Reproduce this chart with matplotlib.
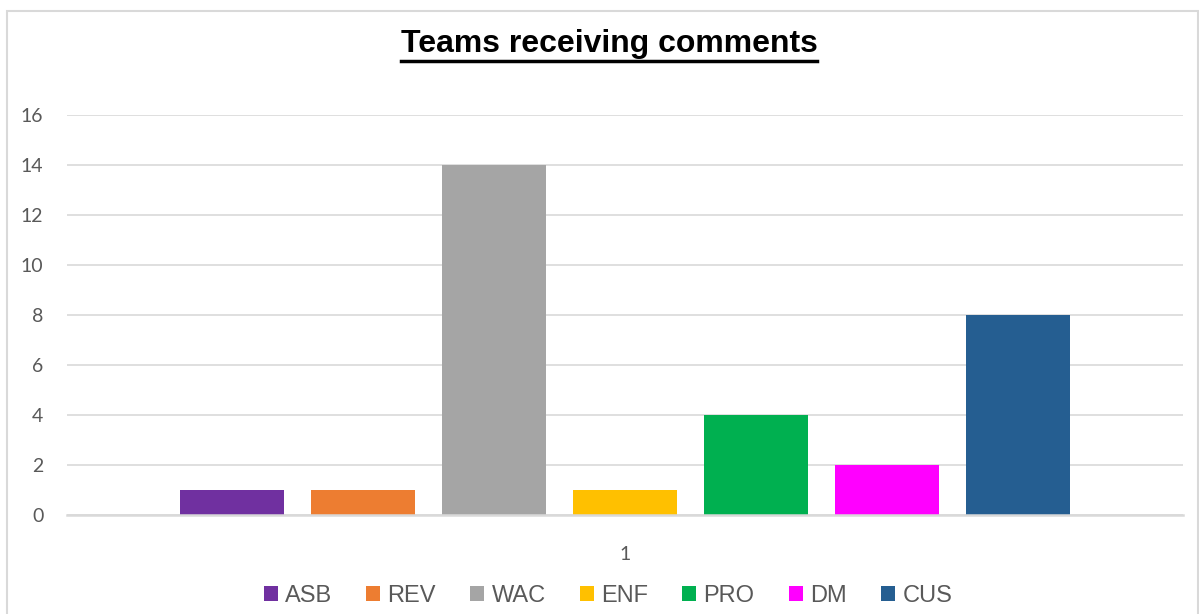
import matplotlib.pyplot as plt
from matplotlib.patches import Rectangle
from matplotlib.lines import Line2D

teams = ["ASB", "REV", "WAC", "ENF", "PRO", "DM", "CUS"]
comments = [1, 1, 14, 1, 4, 2, 8]
colours = ["#7030A0", "#ED7D31", "#A5A5A5", "#FFC000", "#00B050", "#FF00FF", "#255E91"]
category = "1"
y_ticks = [0, 2, 4, 6, 8, 10, 12, 14, 16]

W, H = 1199, 614
fig = plt.figure(figsize=(W / 100, H / 100), dpi=100)

# thin grey frame round the chart
fig.add_artist(Rectangle((7 / W, -0.1), (1198 - 7) / W, (H - 11) / H + 0.1,
                         transform=fig.transFigure, fill=False,
                         edgecolor="#D9D9D9", linewidth=1.5))

ax = fig.add_axes([67 / W, (H - 515) / H, (1183 - 67) / W, 400 / H])

bar_w = 104 / 131
pos = list(range(len(teams)))
for p, name, val, col in zip(pos, teams, comments, colours):
    ax.bar(p, val, width=bar_w, color=col, label=name, zorder=3)

half = 558 / 131
ax.set_xlim(3 - half, 3 + half)
ax.set_ylim(0, 16)
ax.set_yticks(y_ticks)
ax.set_xticks([3])
ax.set_xticklabels([category])

ax.grid(axis="y", color="#D9D9D9", linewidth=1.2, zorder=0)
for s in ["top", "right", "left"]:
    ax.spines[s].set_visible(False)
ax.spines["bottom"].set_color("#D9D9D9")
ax.spines["bottom"].set_linewidth(1.8)
ax.spines["bottom"].set_zorder(4)

ax.tick_params(axis="y", length=0, pad=17, labelsize=14, labelcolor="#595959")
ax.tick_params(axis="x", length=0, pad=22, labelsize=14, labelcolor="#595959")
for lab in ax.get_xticklabels() + ax.get_yticklabels():
    lab.set_fontfamily("Lato")

title = fig.text(609 / W, (H - 44) / H, "Teams receiving comments", ha="center", va="center",
                 fontsize=23, fontweight="bold", family="Liberation Sans")

leg = fig.legend(loc="center", bbox_to_anchor=(0.507, (H - 596) / H), ncol=7, frameon=False,
                 prop={"family": "Liberation Sans", "size": 17},
                 handlelength=0.6, handleheight=0.6, handletextpad=0.3,
                 columnspacing=1.45)
for t in leg.get_texts():
    t.set_color("#595959")

# underline the title using its rendered extent
fig.canvas.draw()
bb = title.get_window_extent().transformed(fig.transFigure.inverted())
uy = bb.y0 - 2 / H
fig.add_artist(Line2D([bb.x0, bb.x1], [uy, uy], transform=fig.transFigure,
                      color="black", linewidth=2.5))

fig.savefig("out.png", dpi=100)
